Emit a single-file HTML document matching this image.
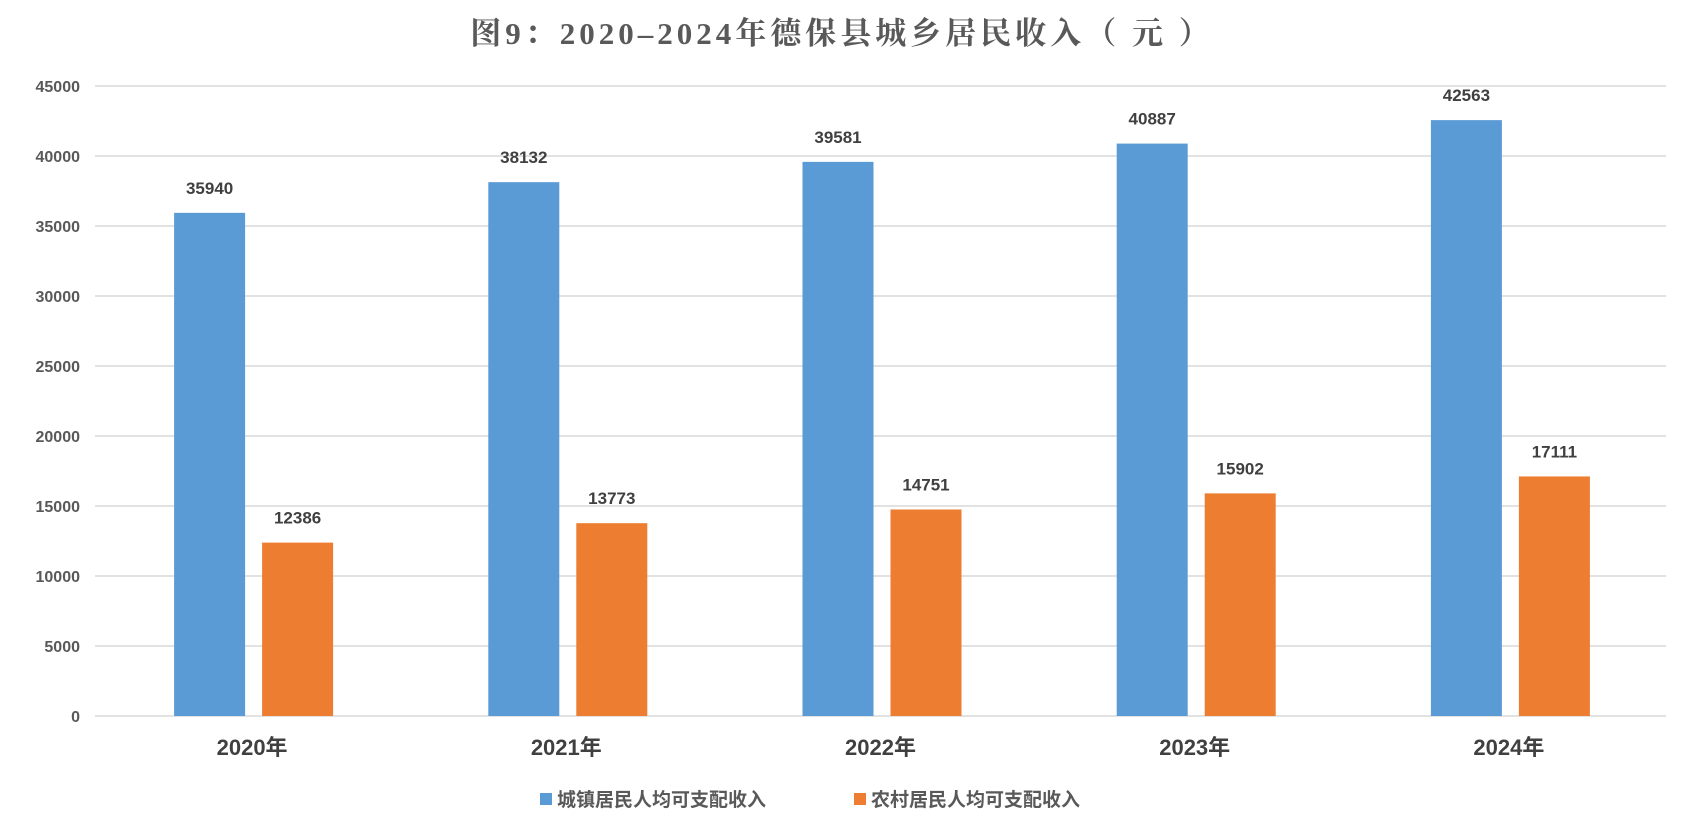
<!DOCTYPE html>
<html><head><meta charset="utf-8"><style>
body{margin:0;background:#fff;}
svg{display:block;font-family:"Liberation Sans","Noto Sans CJK SC",sans-serif;}
</style></head><body>
<svg id="chart" width="1685" height="830">
<text x="842" y="44" text-anchor="middle" font-family="'Liberation Serif','Noto Serif CJK SC',serif" font-size="31" font-weight="bold" letter-spacing="4" fill="#595959">图9：2020–2024年德保县城乡居民收入（ 元 ）</text>
<g id="grid"></g><g id="bars"></g><g id="labels"></g>
<g>
<rect x="540" y="793" width="12" height="12" fill="#5b9bd5"/>
<text x="557" y="806" font-size="19" font-weight="bold" fill="#595959">城镇居民人均可支配收入</text>
<rect x="854" y="793" width="12" height="12" fill="#ed7d31"/>
<text x="871" y="806" font-size="19" font-weight="bold" fill="#595959">农村居民人均可支配收入</text>
</g>
</svg>
<script>
const categories=["2020年","2021年","2022年","2023年","2024年"];
const urban=[35940,38132,39581,40887,42563];
const rural=[12386,13773,14751,15902,17111];
const yTicks=[0,5000,10000,15000,20000,25000,30000,35000,40000,45000];
const NS="http://www.w3.org/2000/svg";
const x0=95,x1=1666,y0=716,yTop=86,yMax=45000;
const y=v=>y0-(v/yMax)*(y0-yTop);
const bw=(x1-x0)/categories.length;
const cx=i=>x0+bw*(i+0.5);
function mk(tag,attrs,parent,txt){const e=document.createElementNS(NS,tag);for(const k in attrs)e.setAttribute(k,attrs[k]);if(txt!=null)e.textContent=txt;document.getElementById(parent).appendChild(e);return e;}
yTicks.forEach(t=>{
  const l=mk('line',{x1:x0,x2:x1,y1:y(t),y2:y(t),stroke:'#d9d9d9','stroke-width':1.5},'grid');
  
  
  const tx=mk('text',{x:80,y:y(t)+6,'text-anchor':'end','font-size':16,'font-weight':'bold',fill:'#595959'},'labels',t);
  
  
});
categories.forEach((c,i)=>{
  const c0=cx(i);
  [[urban,-78,'#5b9bd5','urban'],[rural,10,'#ed7d31','rural']].forEach(([arr,off,col,nm])=>{
    const v=arr[i];
    const r=mk('rect',{x:c0+off,y:y(v),width:71,height:y0-y(v),fill:col},'bars');
    
    
    const t=mk('text',{x:c0+off+35.5,y:y(v)-19,'text-anchor':'middle','font-size':17,'font-weight':'bold',fill:'#404040'},'labels',v);
    
    
  });
  const xl=mk('text',{x:c0,y:755,'text-anchor':'middle','font-size':22,'font-weight':'bold',fill:'#404040'},'labels',c);
  
  
});
</script>
</body></html>
